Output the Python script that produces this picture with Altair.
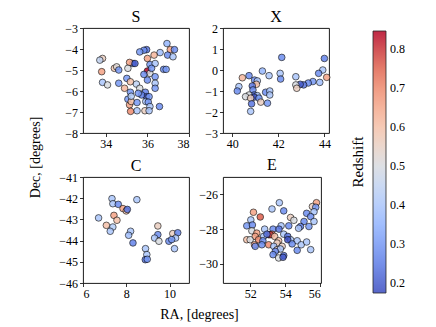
import altair as alt
import pandas as pd

FONT = "Liberation Serif"

# coolwarm colour stops
CMAP = ["#3b4cc0", "#6282ea", "#8db0fe", "#b8d0f9", "#dddcdc",
        "#f5c4ac", "#f49a7b", "#dc5d4a", "#b40426"]
ZMIN, ZMAX = 0.174, 0.847
STOPS = [ZMIN + i * (ZMAX - ZMIN) / 8 for i in range(9)]
CBAR_TICKS = [0.2, 0.3, 0.4, 0.5, 0.6, 0.7, 0.8]

# ---- field S ----
S_RA = [36.94, 37.10, 37.30, 36.97, 37.23, 36.61, 36.32, 35.96, 35.83, 35.63,
        36.00, 36.12, 36.37, 36.78, 36.90, 36.00, 36.12, 35.83, 36.20, 36.37,
        36.00, 36.37, 35.30, 35.14, 35.06, 35.01, 35.18, 35.47, 35.63, 34.90,
        35.18, 34.62, 34.41, 34.52, 34.62, 33.84, 33.71, 33.80, 33.84, 34.08,
        35.90, 35.96, 35.72, 35.56, 36.08, 36.37, 35.06, 35.14, 35.22, 35.50,
        35.92, 36.04, 36.12, 35.88, 36.08, 35.50, 35.19, 36.58, 35.40, 35.22]
S_DEC = [-3.74, -4.03, -4.03, -4.29, -4.37, -4.17, -4.29, -4.03, -4.06, -4.14,
         -4.45, -4.74, -4.69, -4.97, -4.97, -5.05, -5.16, -5.21, -4.92, -5.32,
         -5.48, -5.63, -4.69, -4.64, -4.92, -5.40, -5.56, -5.67, -5.87, -5.87,
         -6.06, -5.63, -4.92, -4.85, -5.00, -4.45, -4.53, -5.08, -5.59, -5.71,
         -6.06, -6.27, -6.19, -6.11, -6.27, -5.87, -6.39, -6.66, -6.50, -6.55,
         -6.50, -6.53, -6.74, -6.94, -6.94, -6.94, -6.97, -6.74, -4.69, -6.25]
S_Z = [0.36, 0.66, 0.28, 0.28, 0.40, 0.38, 0.62, 0.24, 0.28, 0.30,
       0.66, 0.30, 0.40, 0.28, 0.30, 0.847, 0.50, 0.28, 0.30, 0.30,
       0.28, 0.40, 0.24, 0.66, 0.50, 0.30, 0.60, 0.44, 0.50, 0.62,
       0.30, 0.30, 0.58, 0.52, 0.30, 0.56, 0.45, 0.66, 0.40, 0.50,
       0.26, 0.18, 0.26, 0.30, 0.30, 0.30, 0.30, 0.66, 0.60, 0.30,
       0.40, 0.30, 0.40, 0.56, 0.40, 0.40, 0.70, 0.28, 0.20, 0.42]

# ---- field X ----
X_RA = [42.15, 44.00, 43.93, 43.75, 44.10, 43.80, 43.50, 43.30, 43.10, 42.95,
        42.76, 42.76, 42.80, 42.08, 42.10, 41.31, 41.60, 40.73, 40.44, 40.97,
        41.09, 41.05, 40.87, 40.29, 40.22, 40.90, 40.95, 41.09, 40.73, 40.58,
        40.95, 40.80, 41.16, 41.45, 41.63, 41.63, 41.24, 41.53, 40.84, 40.80]
X_DEC = [0.60, 0.55, 0.00, -0.16, -0.35, -0.59, -0.55, -0.62, -0.71, -0.68,
         -0.32, -0.71, -0.87, -0.16, -0.43, -0.05, -0.27, -0.27, -0.37, -0.48,
         -0.52, -0.68, -0.76, -0.79, -1.00, -0.95, -1.19, -1.22, -1.19, -1.27,
         -1.29, -1.34, -1.34, -1.06, -1.00, -1.19, -1.53, -1.58, -1.61, -1.97]
X_Z = [0.28, 0.26, 0.40, 0.28, 0.66, 0.38, 0.30, 0.28, 0.24, 0.20,
       0.40, 0.50, 0.56, 0.40, 0.28, 0.36, 0.40, 0.28, 0.62, 0.28,
       0.40, 0.60, 0.24, 0.40, 0.28, 0.28, 0.24, 0.40, 0.50, 0.50,
       0.18, 0.56, 0.30, 0.28, 0.40, 0.40, 0.56, 0.30, 0.24, 0.40]

# ---- field C ----
C_RA = [7.34, 7.38, 7.63, 7.85, 8.00, 8.05, 8.49, 6.72, 7.43, 7.57,
        7.08, 7.38, 7.26, 8.20, 8.11, 8.31, 8.89, 8.95, 8.88, 8.97,
        9.46, 9.46, 9.31, 9.51, 9.97, 10.15, 10.38, 10.28, 10.23, 10.10]
C_DEC = [-42.02, -42.26, -42.29, -42.49, -42.60, -42.53, -42.07, -42.93, -42.81, -43.04,
         -43.28, -43.36, -43.56, -43.56, -43.75, -44.11, -44.38, -44.66, -44.90, -44.88,
         -43.31, -43.72, -43.88, -44.03, -44.03, -43.67, -43.63, -43.88, -44.38, -43.95]
C_Z = [0.40, 0.40, 0.28, 0.66, 0.60, 0.24, 0.40, 0.40, 0.66, 0.60,
       0.60, 0.42, 0.40, 0.40, 0.38, 0.26, 0.40, 0.40, 0.24, 0.30,
       0.56, 0.28, 0.40, 0.50, 0.28, 0.56, 0.26, 0.40, 0.40, 0.30]

# ---- field E ----
E_RA = [53.67, 53.25, 53.92, 55.79, 55.56, 55.75, 55.23, 55.65, 55.46, 54.31,
        54.50, 55.08, 55.65, 54.88, 55.36, 54.21, 53.77, 54.77, 52.19, 52.58,
        52.04, 51.81, 52.13, 52.83, 53.31, 53.65, 52.10, 52.38, 53.06, 53.25,
        53.15, 53.40, 52.77, 52.96, 52.29, 51.81, 52.00, 52.48, 52.73, 53.92,
        54.15, 54.31, 54.15, 53.63, 53.54, 53.06, 53.35, 53.83, 53.54, 53.73,
        53.44, 53.31, 53.92, 53.63, 53.88, 52.67, 52.25, 52.29, 54.69, 54.92,
        55.23, 54.69, 55.46, 54.40]
E_DEC = [-26.48, -26.84, -26.95, -26.48, -26.70, -26.74, -27.09, -27.00, -27.28, -27.33,
         -27.49, -27.56, -27.56, -27.85, -27.85, -27.81, -27.81, -27.95, -27.03, -27.30,
         -27.47, -27.81, -27.76, -28.00, -28.00, -28.00, -28.10, -28.23, -28.32, -28.29,
         -28.32, -28.42, -28.42, -28.29, -28.42, -28.61, -28.61, -28.61, -28.67, -28.29,
         -28.42, -28.61, -28.61, -28.67, -28.80, -28.90, -28.99, -28.99, -29.18, -29.14,
         -29.28, -29.47, -29.52, -29.66, -29.62, -28.90, -28.90, -28.99, -28.67, -28.90,
         -28.74, -29.22, -29.18, -28.85]
E_Z = [0.40, 0.40, 0.28, 0.66, 0.56, 0.30, 0.28, 0.40, 0.28, 0.56,
       0.50, 0.28, 0.40, 0.24, 0.30, 0.28, 0.40, 0.40, 0.66, 0.76,
       0.40, 0.30, 0.28, 0.40, 0.28, 0.24, 0.50, 0.66, 0.28, 0.70,
       0.80, 0.60, 0.40, 0.24, 0.66, 0.60, 0.50, 0.70, 0.28, 0.40,
       0.24, 0.40, 0.18, 0.60, 0.56, 0.70, 0.40, 0.56, 0.56, 0.40,
       0.28, 0.28, 0.24, 0.50, 0.20, 0.28, 0.66, 0.28, 0.40, 0.40,
       0.40, 0.28, 0.40, 0.28]

color_scale = alt.Scale(domain=STOPS, range=CMAP, interpolate="rgb")
legend = alt.Legend(
    title="Redshift", orient="none", legendX=268, legendY=3,
    direction="vertical", gradientLength=262, gradientThickness=13,
    titleOrient="left", titleAnchor="middle", titleFontSize=15,
    titleFontWeight="normal", titleColor="black", titlePadding=6,
    values=CBAR_TICKS, format=".1f", labelFontSize=12, labelColor="black",
    labelOverlap=False, gradientStrokeColor="black", gradientStrokeWidth=0.8,
    labelOffset=4,
)


def panel(name, ra, dec, z, xdom, ydom, xticks, yticks, w, h,
          xaxis=None, yaxis=None, toff=-3):
    df = pd.DataFrame({"ra": ra, "dec": dec, "z": z})
    xa = xaxis if xaxis is not None else alt.Axis(values=xticks, format="d", title=None)
    ya = yaxis if yaxis is not None else alt.Axis(values=yticks, format="d", title=None)
    return alt.Chart(df).mark_circle(
        size=44, stroke="black", strokeWidth=0.7, opacity=0.85
    ).encode(
        x=alt.X("ra:Q", scale=alt.Scale(domain=xdom, nice=False, zero=False), axis=xa),
        y=alt.Y("dec:Q", scale=alt.Scale(domain=ydom, nice=False, zero=False), axis=ya),
        color=alt.Color("z:Q", scale=color_scale, legend=legend),
    ).properties(
        width=w, height=h,
        title=alt.TitleParams(text=name, fontSize=16, fontWeight="normal",
                              offset=toff, frame="group", anchor="middle"),
    )


# the shared axis labels hang off panel S (they extend only downward from it)
pS = panel("S", S_RA, S_DEC, S_Z, [32.9, 38.0], [-8, -3], [34, 36, 38],
           [-8, -7, -6, -5, -4, -3], 106, 105,
           xaxis=alt.Axis(values=[34, 36, 38], format="d", title="RA, [degrees]",
                          titleX=116, titleY=185, titleBaseline="alphabetic",
                          titleAlign="center", titleFontSize=14,
                          titleFontWeight="normal"),
           yaxis=alt.Axis(values=[-8, -7, -6, -5, -4, -3], format="d",
                          title="Dec, [degrees]", titleX=-48, titleY=129,
                          titleAngle=270, titleBaseline="middle",
                          titleAlign="center", titleFontSize=14,
                          titleFontWeight="normal"))
pX = panel("X", X_RA, X_DEC, X_Z, [39.6, 44.2], [-3, 2], [40, 42, 44],
           [-3, -2, -1, 0, 1, 2], 106, 105)
pC = panel("C", C_RA, C_DEC, C_Z, [6.0, 10.9], [-46, -41], [6, 8, 10],
           [-46, -45, -44, -43, -42, -41], 106, 106)
pE = panel("E", E_RA, E_DEC, E_Z, [50.45, 56.05], [-31.1, -25.0], [52, 54, 56],
           [-30, -28, -26], 98, 106, toff=4)

chart = alt.concat(
    pS, pX, pC, pE, columns=2, spacing={"row": 44, "column": 34}, bounds="flush"
).properties(
    padding={"left": 19, "top": 0, "right": 5, "bottom": 5}
).configure(font=FONT).configure_axis(
    domain=False, tickColor="black", tickSize=3.5, tickWidth=0.8,
    labelFontSize=12, labelColor="black", labelPadding=2, grid=False,
    titleColor="black",
).configure_view(stroke="black", strokeWidth=0.9).configure_title(
    color="black", font=FONT
)

chart.save("out.html", embed_options={"renderer": "svg", "actions": False})
